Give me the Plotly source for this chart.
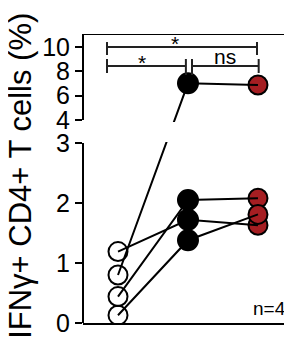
import plotly.graph_objects as go

# ---- data ----
groups = ["naive", "stim", "stim+inh"]
open_vals = [0.80, 1.19, 0.44, 0.13]
black_vals = [7.02, 1.72, 2.05, 1.38]
red_vals = [6.88, 1.63, 2.08, 1.81]
tick_values = [0, 1, 2, 3, 4, 6, 8, 10]
tick_labels = ["0", "1", "2", "3", "4", "6", "8", "10"]
bracket_labels = ["*", "*", "ns"]

# ---- broken axis transform (lower 0-3, upper 4-10) ----
LOW_MAX = 3.0
UP_MIN = 4.0
UP_START = 3.383      # display position of value 4
UP_SCALE = 0.2028     # display units per value unit in upper segment
Y_TOP = 4.817


def d(v):
    if v <= LOW_MAX:
        return v
    return UP_START + (v - UP_MIN) * UP_SCALE


PX = 1 / 60.0  # one pixel in display units

xs = [0, 1, 2]
RED = "#A51E22"
FONT = "Liberation Sans, Arial, sans-serif"

fig = go.Figure()

# markers
fig.add_trace(go.Scatter(x=[0] * len(open_vals), y=[d(v) for v in open_vals], mode="markers",
                         marker=dict(size=19, color="rgba(255,255,255,0)", line=dict(color="black", width=2)),
                         hoverinfo="skip", showlegend=False))
fig.add_trace(go.Scatter(x=[1] * len(black_vals), y=[d(v) for v in black_vals], mode="markers",
                         marker=dict(size=20, color="black", line=dict(color="black", width=2)),
                         hoverinfo="skip", showlegend=False))
fig.add_trace(go.Scatter(x=[2] * len(red_vals), y=[d(v) for v in red_vals], mode="markers",
                         marker=dict(size=19, color=RED, line=dict(color="black", width=2)),
                         hoverinfo="skip", showlegend=False))

# subject lines
for a, b, c in zip(open_vals, black_vals, red_vals):
    fig.add_trace(go.Scatter(x=xs, y=[d(a), d(b), d(c)], mode="lines",
                             line=dict(color="black", width=2),
                             hoverinfo="skip", showlegend=False))

shapes = []
# gap mask
shapes.append(dict(type="rect", xref="paper", yref="y", x0=0.01, x1=1.0,
                   y0=d(LOW_MAX) + 1 * PX, y1=d(UP_MIN) - 2 * PX,
                   fillcolor="white", line=dict(width=0), layer="above"))
# left axis segments
ax = dict(color="black", width=2)
shapes.append(dict(type="line", xref="paper", yref="y", x0=0, x1=0, y0=0, y1=d(LOW_MAX), line=ax, layer="above"))
shapes.append(dict(type="line", xref="paper", yref="y", x0=0, x1=0, y0=d(UP_MIN), y1=Y_TOP, line=ax, layer="above"))
# top line
shapes.append(dict(type="line", xref="paper", yref="y", x0=0, x1=1, y0=Y_TOP, y1=Y_TOP, line=ax, layer="above"))

# significance brackets
bc = dict(color="#222222", width=2)
y_hi = d(10)
y_lo = d(8.44)
# top bracket (* : open vs red)
shapes.append(dict(type="line", x0=-0.157, x1=1.986, y0=y_hi, y1=y_hi, line=bc))
for xx in (-0.157, 1.986):
    shapes.append(dict(type="line", x0=xx, x1=xx, y0=y_hi + 5 * PX, y1=y_hi - 8 * PX, line=bc))
# lower-left bracket (* : open vs black)
shapes.append(dict(type="line", x0=-0.157, x1=0.97, y0=y_lo, y1=y_lo, line=bc))
shapes.append(dict(type="line", x0=-0.157, x1=-0.157, y0=y_lo + 7 * PX, y1=y_lo - 7 * PX, line=bc))
shapes.append(dict(type="line", x0=0.97, x1=0.97, y0=y_lo + 7 * PX, y1=y_lo - 9 * PX, line=bc))
# lower-right bracket (ns : black vs red)
shapes.append(dict(type="line", x0=1.057, x1=2.01, y0=y_lo, y1=y_lo, line=bc))
shapes.append(dict(type="line", x0=1.057, x1=1.057, y0=y_lo + 7 * PX, y1=y_lo - 9 * PX, line=bc))
shapes.append(dict(type="line", x0=2.01, x1=2.01, y0=y_lo + 7 * PX, y1=y_lo - 7 * PX, line=bc))

annotations = [
    dict(x=0.81, y=y_hi - 10 * PX, text=bracket_labels[0], showarrow=False, yanchor="bottom",
         font=dict(size=21, color="black", family=FONT)),
    dict(x=0.34, y=y_lo - 10 * PX, text=bracket_labels[1], showarrow=False, yanchor="bottom",
         font=dict(size=21, color="black", family=FONT)),
    dict(x=1.53, y=y_lo - 3.5 * PX, text=bracket_labels[2], showarrow=False, yanchor="bottom",
         font=dict(size=21, color="black", family=FONT)),
    dict(x=0.981, y=0.05, xref="paper", yref="paper", text="n=4", showarrow=False,
         xanchor="right", yanchor="middle", font=dict(size=19, color="black", family=FONT)),
    dict(x=-0.297, y=0.509, xref="paper", yref="paper", text="IFNγ+ CD4+ T cells (%)",
         textangle=-90, showarrow=False, xanchor="center", yanchor="middle",
         font=dict(size=31, color="black", family=FONT)),
]

# page has an 8px body margin, so the figure is 8px smaller than the window
fig.update_layout(
    width=284, height=332,
    margin=dict(l=75, r=0, t=26, b=17),
    plot_bgcolor="white", paper_bgcolor="white",
    shapes=shapes, annotations=annotations,
    xaxis=dict(range=[-0.5, 2.486], showgrid=False, zeroline=False, showticklabels=False,
               ticks="", showline=True, linecolor="black", linewidth=2, automargin=False),
    yaxis=dict(range=[0, Y_TOP], showgrid=False, zeroline=False, showline=False,
               tickvals=[d(v) for v in tick_values], ticktext=tick_labels,
               ticks="outside", ticklen=7, tickwidth=2, tickcolor="black", automargin=False,
               tickfont=dict(size=25, color="black", family=FONT)),
)

fig.write_html("out.html")
